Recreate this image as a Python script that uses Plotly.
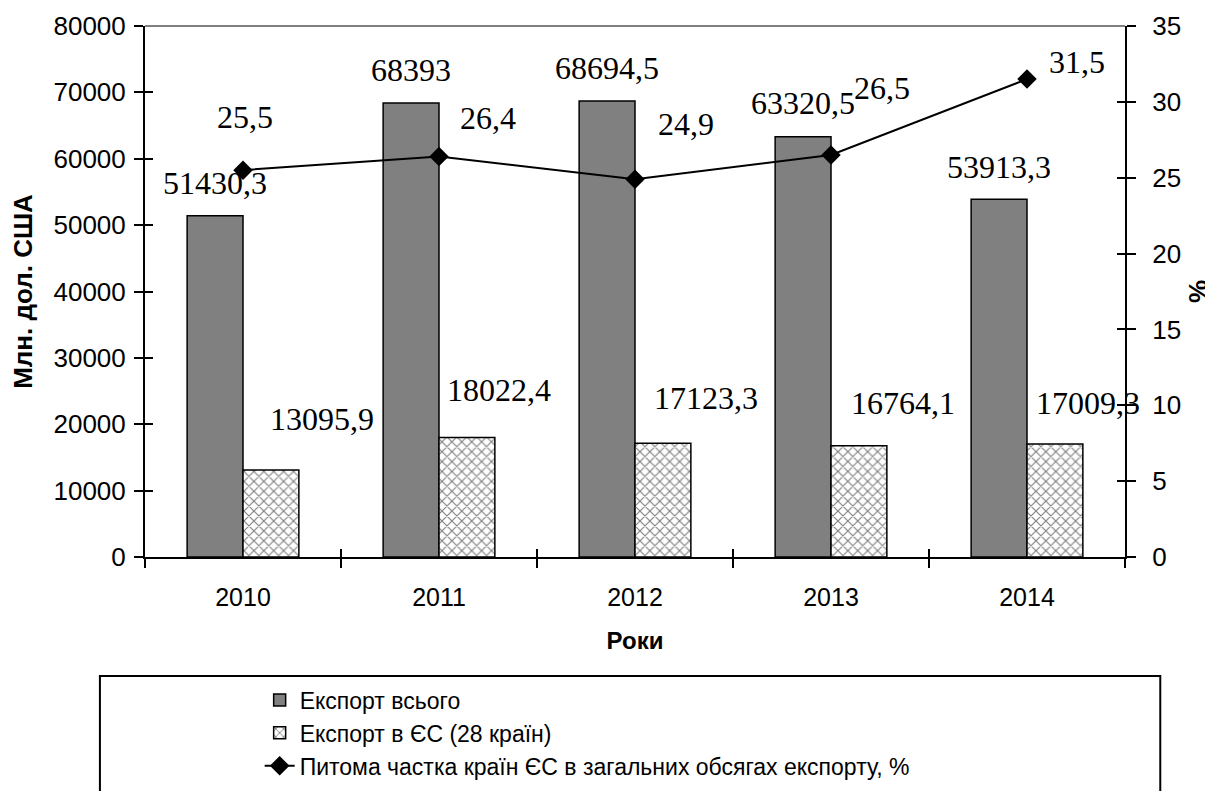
import plotly.graph_objects as go

years = ["2010", "2011", "2012", "2013", "2014"]
export_total = [51430.3, 68393, 68694.5, 63320.5, 53913.3]
export_eu = [13095.9, 18022.4, 17123.3, 16764.1, 17009.3]
eu_share = [25.5, 26.4, 24.9, 26.5, 31.5]

name_total = "Експорт всього"
name_eu = "Експорт в ЄС (28 країн)"
name_share = "Питома частка країн ЄС в загальних обсягах експорту, %"

# label offsets (pixels) relative to mark
total_lbl_dy = [33, 33, 33, 34, 32]
eu_lbl_dx = [51, 32, 43, 44, 33]
eu_lbl_dy = [51, 47, 45, 43, 41]
share_lbl_dx = [2, 49, 51, 51, 50]
share_lbl_dy = [53, 38, 55, 67, 17]


def fmt(v):
    s = ("%.1f" % v)
    if s.endswith(".0"):
        s = s[:-2]
    return s.replace(".", ",")


fig = go.Figure()
fig.add_trace(go.Bar(
    x=years, y=export_total, name=name_total,
    marker=dict(color="#808080", line=dict(color="black", width=1.5)),
))
fig.add_trace(go.Bar(
    x=years, y=export_eu, name=name_eu,
    marker=dict(color="white", line=dict(color="black", width=1.5),
                pattern=dict(shape="x", fgcolor="black", bgcolor="white",
                             size=7, solidity=0.3)),
))
fig.add_trace(go.Scatter(
    x=years, y=eu_share, name=name_share, yaxis="y2",
    mode="lines+markers",
    line=dict(color="black", width=2),
    marker=dict(symbol="diamond", size=15, color="black"),
))
# empty helper traces so the overlay axes (inner half of the crossing ticks) get drawn
fig.add_trace(go.Scatter(x=[], y=[], xaxis="x2", yaxis="y3", showlegend=False,
                         hoverinfo="skip", mode="markers"))
fig.add_trace(go.Scatter(x=[], y=[], xaxis="x2", yaxis="y4", showlegend=False,
                         hoverinfo="skip", mode="markers"))

serif = dict(family="Liberation Serif, Times New Roman, serif", size=32, color="black")
BAR_HALF = 28
ann = []
for i, y in enumerate(years):
    ann.append(dict(x=i, y=export_total[i], xref="x", yref="y", text=fmt(export_total[i]),
                    showarrow=False, xshift=-BAR_HALF, yshift=total_lbl_dy[i], font=serif))
    ann.append(dict(x=i, y=export_eu[i], xref="x", yref="y", text=fmt(export_eu[i]),
                    showarrow=False, xshift=BAR_HALF + eu_lbl_dx[i], yshift=eu_lbl_dy[i], font=serif))
    ann.append(dict(x=i, y=eu_share[i], xref="x", yref="y2", text=fmt(eu_share[i]),
                    showarrow=False, xshift=share_lbl_dx[i], yshift=share_lbl_dy[i], font=serif))

sans = "Liberation Sans, Arial, sans-serif"
x_range = [-0.5, len(years) - 0.5]
inner_ticks = dict(ticks="inside", ticklen=8, tickwidth=2, tickcolor="black",
                   showticklabels=False, showgrid=False, zeroline=False,
                   showline=False, fixedrange=True, autorange=False)
fig.update_layout(
    width=1205, height=783,
    margin=dict(l=137, r=88, t=18, b=234, autoexpand=False),
    paper_bgcolor="white", plot_bgcolor="white",
    font=dict(family=sans, size=26, color="black"),
    barmode="group", bargap=0.43, bargroupgap=0,
    showlegend=True,
    legend=dict(x=0.117, y=-0.434, xanchor="left", yanchor="bottom",
                font=dict(family=sans, size=23),
                bgcolor="rgba(0,0,0,0)", borderwidth=0, tracegroupgap=0,
                traceorder="normal"),
    xaxis=dict(type="category", range=x_range, autorange=False,
               automargin=True,
               showline=True, linecolor="black", linewidth=2,
               ticks="outside", ticklen=9, tickwidth=2, tickcolor="black",
               tickson="boundaries", showgrid=False, tickangle=0,
               ticklabelstandoff=17,
               title=dict(text="<b>Роки</b>", font=dict(size=24), standoff=22),
               tickfont=dict(size=25)),
    xaxis2=dict(overlaying="x", anchor="y", side="bottom", type="linear",
                range=x_range, tickmode="array",
                tickvals=[k - 0.5 for k in range(len(years) + 1)], **inner_ticks),
    yaxis=dict(range=[0, 80000], dtick=10000, showline=True, linecolor="black", linewidth=2,
               automargin=True,
               ticks="outside", ticklen=9, tickwidth=2, tickcolor="black",
               ticklabelstandoff=3,
               showgrid=False, zeroline=False, tickformat="d",
               title=dict(text="<b>Млн. дол. США</b>", font=dict(size=26), standoff=13),
               tickfont=dict(size=26)),
    yaxis2=dict(range=[0, 35], dtick=5, overlaying="y", side="right",
                automargin=True,
                showline=True, linecolor="black", linewidth=2,
                ticks="outside", ticklen=9, tickwidth=2, tickcolor="black",
                ticklabelstandoff=11,
                showgrid=False, zeroline=False,
                title=dict(text="<b>%</b>", font=dict(size=26), standoff=19),
                tickfont=dict(size=26)),
    yaxis3=dict(overlaying="y", anchor="x2", side="left", range=[0, 80000],
                dtick=10000, **inner_ticks),
    yaxis4=dict(overlaying="y", anchor="x2", side="right", range=[0, 35],
                dtick=5, **inner_ticks),
    annotations=ann,
    shapes=[
        dict(type="line", xref="paper", yref="paper", x0=0, x1=1, y0=1, y1=1,
             line=dict(color="#808080", width=2), layer="above"),
        dict(type="rect", xref="paper", yref="paper", x0=-0.046, x1=1.036,
             y0=-0.6, y1=-0.224, line=dict(color="black", width=2),
             fillcolor="rgba(0,0,0,0)", layer="below"),
    ],
)

fig.write_html("out.html")
